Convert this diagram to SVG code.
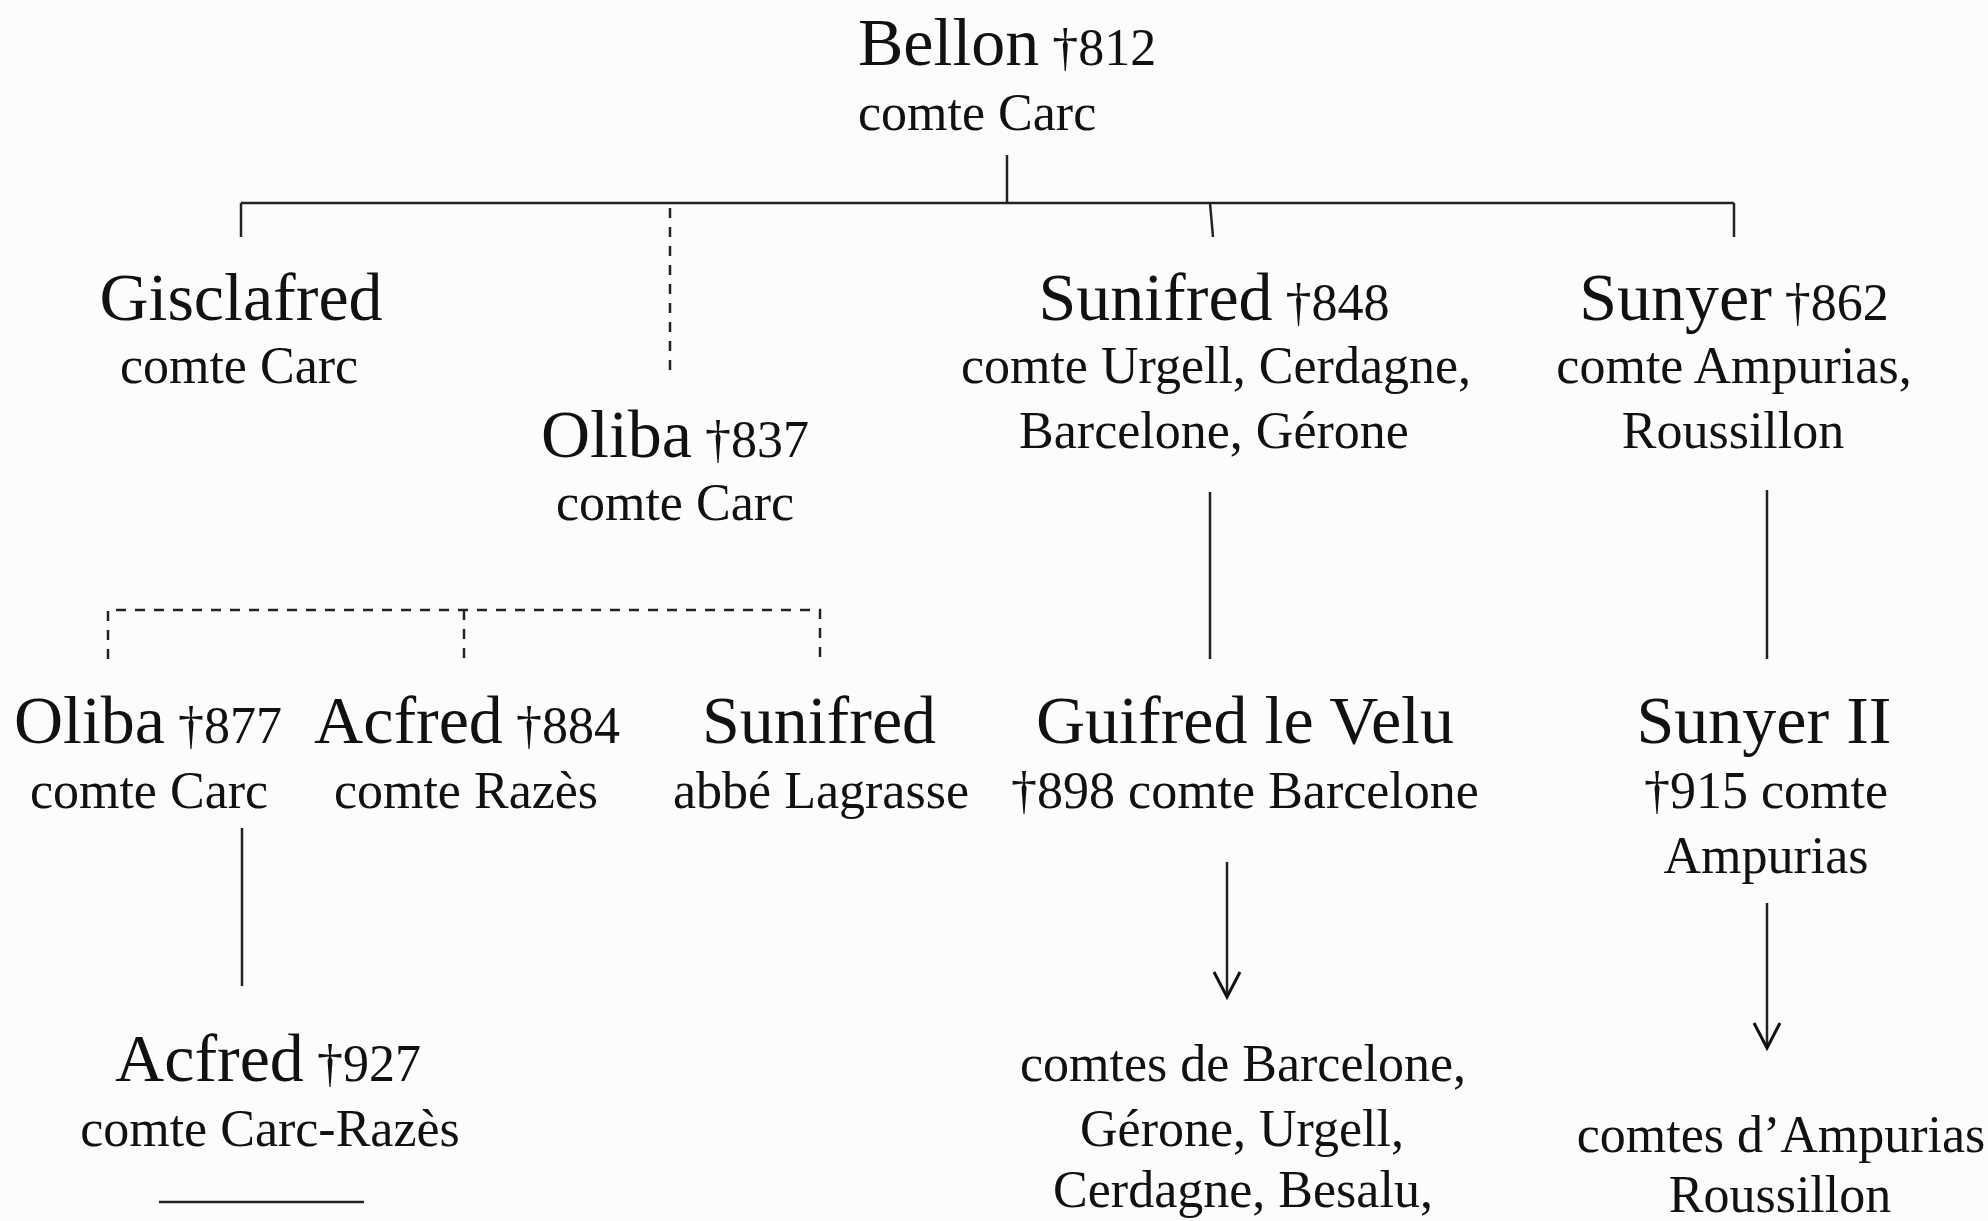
<svg xmlns="http://www.w3.org/2000/svg" width="1988" height="1221" viewBox="0 0 1988 1221">
<defs>
<style>
text{font-family:"Liberation Serif","Times New Roman",serif;fill:#111;text-anchor:middle}
.n{font-size:68px}
.s{font-size:52px}
.d{font-size:52px}
.ln{fill:none;stroke:#222;stroke-width:2.5}
.dash{fill:none;stroke:#222;stroke-width:2.5;stroke-dasharray:10 9}
</style>
<marker id="vhead" markerUnits="userSpaceOnUse" markerWidth="30" markerHeight="30" viewBox="0 0 30 30" refX="27" refY="15" orient="auto">
<path d="M2,2 L27,15 L2,28" fill="none" stroke="#111" stroke-width="3"/>
</marker>
</defs>
<rect x="0" y="0" width="1988" height="1221" fill="#fcfcfc"/>
<g id="connectors">
<path class="ln" d="M1007 155 V203"/>
<path class="ln" d="M241 203 H1734"/>
<path class="ln" d="M241 203 V237"/>
<path class="ln" d="M1210 203 L1213 237"/>
<path class="ln" d="M1734 203 V237"/>
<path class="dash" d="M670 208 V372"/>
<path class="ln" d="M1210 492 V659"/>
<path class="ln" d="M1767 490 V659"/>
<path class="dash" d="M108 659 V610 H820 V659"/>
<path class="dash" d="M464 610 V659"/>
<path class="ln" d="M242 828 V986"/>
<path class="ln" d="M1227 862 V997" marker-end="url(#vhead)"/>
<path class="ln" d="M1767 903 V1048" marker-end="url(#vhead)"/>
<path class="ln" d="M159 1202 H364"/>
</g>
<g id="bellon">
<text x="858" y="65" class="n" style="text-anchor:start">Bellon<tspan class="d"> †812</tspan></text>
<text x="858" y="130" class="s" style="text-anchor:start">comte Carc</text>
</g>
<g id="gisclafred">
<text x="241" y="320" class="n">Gisclafred</text>
<text x="239" y="383" class="s">comte Carc</text>
</g>
<g id="oliba837">
<text x="675" y="457" class="n">Oliba<tspan class="d"> †837</tspan></text>
<text x="675" y="520" class="s">comte Carc</text>
</g>
<g id="sunifred848">
<text x="1214" y="320" class="n">Sunifred<tspan class="d"> †848</tspan></text>
<text x="1216" y="383" class="s">comte Urgell, Cerdagne,</text>
<text x="1214" y="448" class="s">Barcelone, Gérone</text>
</g>
<g id="sunyer862">
<text x="1734" y="320" class="n">Sunyer<tspan class="d"> †862</tspan></text>
<text x="1734" y="383" class="s">comte Ampurias,</text>
<text x="1733" y="448" class="s">Roussillon</text>
</g>
<g id="oliba877">
<text x="148" y="743" class="n">Oliba<tspan class="d"> †877</tspan></text>
<text x="149" y="808" class="s">comte Carc</text>
</g>
<g id="acfred884">
<text x="467" y="743" class="n">Acfred<tspan class="d"> †884</tspan></text>
<text x="466" y="808" class="s">comte Razès</text>
</g>
<g id="sunifred-abbe">
<text x="819" y="743" class="n">Sunifred</text>
<text x="821" y="808" class="s">abbé Lagrasse</text>
</g>
<g id="guifred">
<text x="1245" y="743" class="n">Guifred le Velu</text>
<text x="1245" y="808" class="s">†898 comte Barcelone</text>
</g>
<g id="sunyer2">
<text x="1764" y="743" class="n">Sunyer II</text>
<text x="1766" y="808" class="s">†915 comte</text>
<text x="1766" y="873" class="s">Ampurias</text>
</g>
<g id="acfred927">
<text x="268" y="1081" class="n">Acfred<tspan class="d"> †927</tspan></text>
<text x="270" y="1146" class="s">comte Carc-Razès</text>
</g>
<g id="comtes-barcelone">
<text x="1243" y="1081" class="s">comtes de Barcelone,</text>
<text x="1242" y="1146" class="s">Gérone, Urgell,</text>
<text x="1243" y="1207" class="s">Cerdagne, Besalu,</text>
</g>
<g id="comtes-ampurias">
<text x="1781" y="1152" class="s">comtes d’Ampurias</text>
<text x="1780" y="1212" class="s">Roussillon</text>
</g>
</svg>
